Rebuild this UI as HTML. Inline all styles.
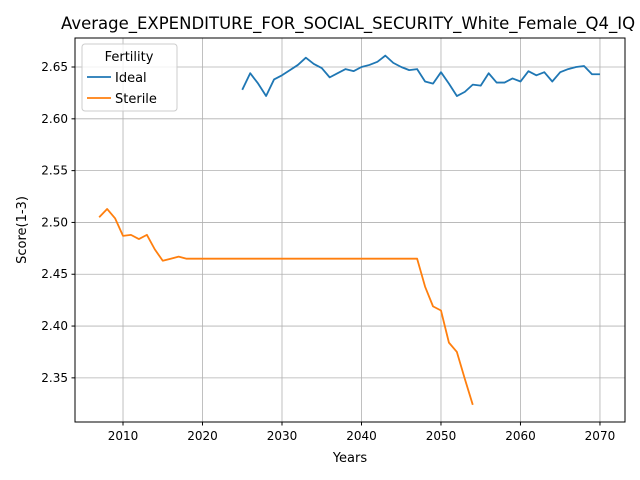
<!DOCTYPE html>
<html><head><meta charset="utf-8"><style>
html,body{margin:0;padding:0;width:640px;height:480px;overflow:hidden;background:#fff;font-family:"Liberation Sans","DejaVu Sans",sans-serif;}
</style></head><body>
<svg id="chart" width="640" height="480" xmlns="http://www.w3.org/2000/svg">
<text x="61" y="29" font-size="16.5" fill="#000" style="font-family:'DejaVu Sans',sans-serif">Average_EXPENDITURE_FOR_SOCIAL_SECURITY_White_Female_Q4_IQ</text>
<g id="grid"></g>
<g id="series"></g>
<rect x="75" y="38" width="550" height="384" fill="none" stroke="#000" stroke-width="1"/>
<g id="axes"></g>
<text x="350" y="462" font-size="13" text-anchor="middle" style="font-family:'DejaVu Sans',sans-serif">Years</text>
<text x="26" y="230" font-size="13" text-anchor="middle" transform="rotate(-90 26 230)" style="font-family:'DejaVu Sans',sans-serif">Score(1-3)</text>
<g>
<rect x="82" y="44" width="95" height="67" rx="3" fill="#fff" fill-opacity="0.8" stroke="#ccc"/>
<text x="129" y="61" font-size="13" text-anchor="middle" style="font-family:'DejaVu Sans',sans-serif">Fertility</text>
<line x1="87" x2="111" y1="77" y2="77" stroke="#1f77b4" stroke-width="1.8"/>
<text x="115" y="82" font-size="13" style="font-family:'DejaVu Sans',sans-serif">Ideal</text>
<line x1="87" x2="111" y1="98" y2="98" stroke="#ff7f0e" stroke-width="1.8"/>
<text x="115" y="103" font-size="13" style="font-family:'DejaVu Sans',sans-serif">Sterile</text>
</g>
</svg>
<script>
const xTicks=[2010,2020,2030,2040,2050,2060,2070];
const yTicks=[2.35,2.40,2.45,2.50,2.55,2.60,2.65];
const idealYears=[];for(let y=2025;y<=2070;y++)idealYears.push(y);
const idealValues=[2.628,2.644,2.634,2.622,2.638,2.642,2.647,2.652,2.659,2.653,2.649,2.640,2.644,2.648,2.646,2.650,2.652,2.655,2.661,2.654,2.650,2.647,2.648,2.636,2.634,2.645,2.634,2.622,2.626,2.633,2.632,2.644,2.635,2.635,2.639,2.636,2.646,2.642,2.645,2.636,2.645,2.648,2.650,2.651,2.643,2.643];
const sterileYears=[];for(let y=2007;y<=2054;y++)sterileYears.push(y);
const sterileValues=[2.505,2.513,2.504,2.487,2.488,2.484,2.488,2.474,2.463,2.465,2.467,2.465,2.465,2.465,2.465,2.465,2.465,2.465,2.465,2.465,2.465,2.465,2.465,2.465,2.465,2.465,2.465,2.465,2.465,2.465,2.465,2.465,2.465,2.465,2.465,2.465,2.465,2.465,2.465,2.465,2.465,2.438,2.419,2.415,2.384,2.375,2.349,2.324];
const NS="http://www.w3.org/2000/svg";
const X0=75,X1=625,Y0=38,Y1=422,xmin=2003.96,xmax=2073.15,ymin=2.3074,ymax=2.678;
const xs=v=>X0+(v-xmin)/(xmax-xmin)*(X1-X0);
const ys=v=>Y1-(v-ymin)/(ymax-ymin)*(Y1-Y0);
function mk(t,a,p){const e=document.createElementNS(NS,t);for(const k in a)e.setAttribute(k,a[k]);p.appendChild(e);return e;}
const grid=document.getElementById('grid'),axes=document.getElementById('axes'),series=document.getElementById('series');
xTicks.forEach(t=>{const x=xs(t);
const g=mk('line',{x1:x,x2:x,y1:Y0,y2:Y1,stroke:'#b0b0b0','stroke-width':0.8},grid);


mk('line',{x1:x,x2:x,y1:Y1,y2:Y1+3.5,stroke:'#000'},axes);
const l=mk('text',{x:x,y:Y1+18,'font-size':12,'text-anchor':'middle',style:"font-family:'DejaVu Sans',sans-serif"},axes);l.textContent=t;

});
yTicks.forEach(t=>{const y=ys(t);
const g=mk('line',{x1:X0,x2:X1,y1:y,y2:y,stroke:'#b0b0b0','stroke-width':0.8},grid);


mk('line',{x1:X0-3.5,x2:X0,y1:y,y2:y,stroke:'#000'},axes);
const l=mk('text',{x:X0-7,y:y+4,'font-size':12,'text-anchor':'end',style:"font-family:'DejaVu Sans',sans-serif"},axes);l.textContent=t.toFixed(2);

});
function line(xa,va,c,n){const p=mk('polyline',{points:xa.map((x,i)=>xs(x)+','+ys(va[i])).join(' '),fill:'none',stroke:c,'stroke-width':1.8,'stroke-linejoin':'round'},series);

}
line(idealYears,idealValues,'#1f77b4','ideal-line');
line(sterileYears,sterileValues,'#ff7f0e','sterile-line');
</script>
</body></html>
